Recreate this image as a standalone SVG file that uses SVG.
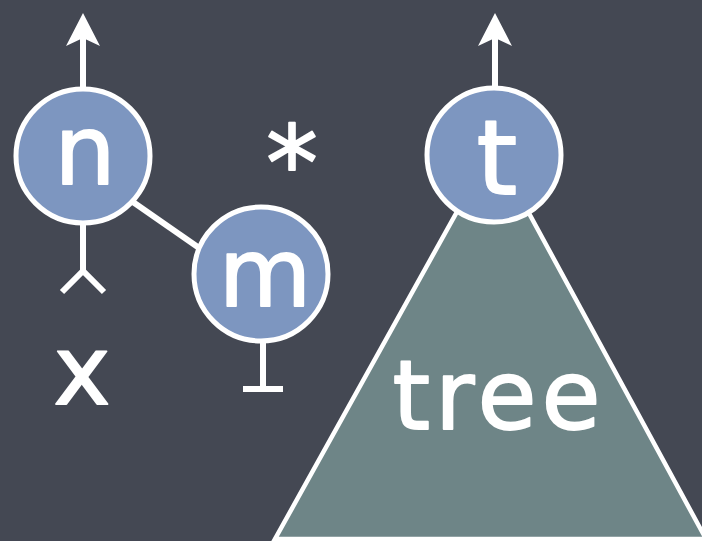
<svg xmlns="http://www.w3.org/2000/svg" width="702" height="541" viewBox="0 0 702 541">
  <style>
    .bg { fill: #444853; }
    .node { fill: #7d96c0; stroke: #ffffff; stroke-width: 5; }
    .tri { fill: #6e8587; stroke: #ffffff; stroke-width: 4.5; stroke-linejoin: miter; }
    .edge { fill: none; stroke: #ffffff; stroke-width: 6; stroke-linecap: butt; }
    .lbl { font-family: "DejaVu Sans", "Noto Sans", sans-serif; fill: #ffffff; stroke: #ffffff; stroke-width: 1.8; stroke-linejoin: round; text-anchor: middle; }
  </style>
  <defs>
    <marker id="arrow" viewBox="0 -17 33 34" markerWidth="33" markerHeight="34" markerUnits="userSpaceOnUse" refX="8" refY="0" orient="auto">
      <path d="M33,0 L0,-17 L8,0 L0,17 Z" fill="#ffffff"/>
    </marker>
  </defs>
  <rect class="bg" x="0" y="0" width="702" height="541"/>

  <g id="tree">
    <path class="tri" d="M493,147 L275,539 L706,539 Z"/>
    <text class="lbl" x="499" y="429" font-size="96" letter-spacing="5">tree</text>
  </g>

  <g id="connectors">
    <line class="edge" x1="83" y1="89" x2="83" y2="38" marker-end="url(#arrow)"/>
    <line class="edge" x1="495" y1="89" x2="495" y2="38" marker-end="url(#arrow)"/>
    <line class="edge" x1="120" y1="193" x2="215" y2="259"/>
    <line class="edge" x1="83" y1="222" x2="83" y2="271"/>
    <polyline class="edge" points="62,292 83,271 104,292"/>
    <line class="edge" x1="263" y1="340" x2="263" y2="389"/>
    <line class="edge" x1="243" y1="389" x2="283" y2="389" stroke-width="8"/>
  </g>

  <g id="node-n">
    <circle class="node" cx="83" cy="156" r="67"/>
    <text class="lbl" x="85" y="184" font-size="97">n</text>
  </g>

  <g id="node-m">
    <circle class="node" cx="261" cy="274" r="67"/>
    <text class="lbl" x="265" y="306" font-size="95">m</text>
  </g>

  <g id="node-t">
    <circle class="node" cx="494" cy="155" r="67"/>
    <text class="lbl" x="497" y="194" font-size="104">t</text>
  </g>

  <g id="label-x">
    <text class="lbl" x="82" y="404" font-size="97">x</text>
  </g>

  <g id="label-star">
    <text class="lbl" x="292" y="200" font-size="104" stroke-width="3.5">*</text>
  </g>
</svg>
